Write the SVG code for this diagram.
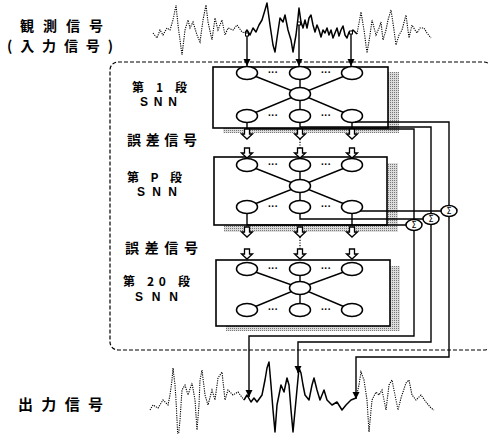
<svg xmlns="http://www.w3.org/2000/svg" width="488" height="434" viewBox="0 0 488 434">
<style>
.lbl{font-family:"Noto Sans CJK JP","Liberation Sans",sans-serif;font-weight:bold;fill:#000}
.snn{font-family:"Liberation Sans",Arial,sans-serif;font-weight:bold;font-size:12px;fill:#000}
.box{fill:#fff;stroke:#000;stroke-width:1.6}
.shadow{fill:url(#stip)}
.node{fill:#fff;stroke:#000;stroke-width:1.5}
.ln{fill:none;stroke:#000;stroke-width:1.4}
.wd{fill:none;stroke:#000;stroke-width:1.1;stroke-dasharray:1.2 1.1}
.ws{fill:none;stroke:#000;stroke-width:1.5;stroke-linejoin:round}
.dots{font-family:"Liberation Sans",sans-serif;font-size:10px;font-weight:bold;text-anchor:middle}
.sig{font-family:"DejaVu Sans",sans-serif;font-size:8px;text-anchor:middle}
.frame{fill:none;stroke:#000;stroke-width:1.2;stroke-dasharray:4 2}
.dot{fill:none;stroke:#000;stroke-width:1.2;stroke-dasharray:1.2 1.5}
</style>
<defs>
<pattern id="stip" width="2" height="2" patternUnits="userSpaceOnUse"><rect width="2" height="2" fill="#dcdcdc"/><rect width="1" height="1" fill="#777"/></pattern>
<marker id="ah" markerUnits="userSpaceOnUse" markerWidth="8" markerHeight="8" refX="7" refY="3.5" orient="auto"><path d="M0,0 L7,3.5 L0,7 z" fill="#000"/></marker>
<path id="harrow" d="M-2.5,0 V5 H-5.5 L0,10 L5.5,5 H2.5 V0 Z" fill="#fff" stroke="#000" stroke-width="1.3"/>
</defs>

<rect class="frame" x="110" y="62" width="382" height="288" rx="8"/>

<g id="input-wave">
<path class="wd" d="M153,33 L157,38 L160,30 L163,35 L167,28 L170,30 L173,20 L176,5 L178,25 L182,55 L185,30 L188,20 L190,28 L193,22 L197,35 L200,42 L203,20 L206,5 L208,22 L212,40 L215,18 L218,30 L222,20 L225,35 L228,28 L233,30 L237,25 L242,32 L245,33"/>
<path class="ws" d="M245,33 L247,30 L250,35 L253,28 L256,32 L259,25 L262,20 L265,10 L267,3 L270,25 L273,45 L275,52 L277,38 L280,18 L283,22 L285,15 L288,30 L291,40 L293,52 L296,35 L298,18 L299,8 L301,22 L303,28 L305,20 L307,28 L309,18 L311,15 L313,25 L315,32 L317,25 L319,30 L321,37 L323,30 L325,33 L327,28 L329,35 L331,30 L333,38 L335,33 L337,28 L339,36 L341,30 L343,26 L345,35 L347,38 L349,32 L351,33 L353,30 L357,34"/>
<path class="wd" d="M357,34 L361,12 L364,30 L367,53 L370,35 L372,20 L376,35 L379,28 L381,22 L383,40 L386,30 L388,20 L391,10 L394,30 L396,45 L399,35 L402,30 L406,15 L409,38 L412,25 L415,30 L417,33 L420,28 L424,28 L427,33 L431,38"/>
</g>

<g id="output-wave">
<path class="wd" d="M150,410 L153,405 L158,408 L163,400 L168,405 L170,395 L172,380 L173,368 L175,385 L176,400 L178,440 L180,420 L182,390 L185,385 L188,395 L192,383 L195,400 L197,430 L199,405 L200,380 L202,370 L205,395 L208,405 L212,390 L215,400 L218,378 L222,372 L225,400 L228,390 L233,395 L238,392 L244,400"/>
<path class="ws" d="M244,400 L247,395 L251,402 L254,398 L257,402 L262,395 L265,380 L267,368 L269,362 L271,385 L273,410 L275,432 L277,405 L281,385 L284,392 L287,378 L289,385 L291,410 L293,432 L296,400 L299,368 L301,373 L303,385 L305,395 L309,400 L312,385 L314,378 L317,390 L320,400 L324,390 L327,400 L332,405 L337,402 L342,410 L346,405 L351,400 L356,398"/>
<path class="wd" d="M356,398 L359,385 L361,372 L364,380 L367,400 L369,432 L372,400 L376,392 L379,395 L382,390 L386,410 L389,385 L392,380 L396,400 L398,410 L401,398 L406,383 L409,380 L412,395 L416,400 L421,395 L426,402 L431,408 L434,410"/>
</g>

<g id="stage1">
<rect class="shadow" x="223" y="72" width="176" height="61"/>
<rect class="box" x="213" y="67" width="175" height="61"/>
<path class="ln" d="M247,73 L300,94 L352,73 M300,73 V116 M247,116 L300,94 L352,116"/>
<ellipse class="node" cx="247" cy="73" rx="10.5" ry="6.5"/>
<ellipse class="node" cx="300" cy="73" rx="10.5" ry="6.5"/>
<ellipse class="node" cx="352" cy="73" rx="10.5" ry="6.5"/>
<ellipse class="node" cx="300" cy="94" rx="10.5" ry="6.5"/>
<ellipse class="node" cx="247" cy="116" rx="10.5" ry="6.5"/>
<ellipse class="node" cx="300" cy="116" rx="10.5" ry="6.5"/>
<ellipse class="node" cx="352" cy="116" rx="10.5" ry="6.5"/>
<text class="dots" x="273" y="76">···</text><text class="dots" x="326" y="76">···</text>
<text class="dots" x="273" y="119">···</text><text class="dots" x="326" y="119">···</text>
</g>

<g id="stage2">
<rect class="shadow" x="224" y="163" width="174" height="69"/>
<rect class="box" x="214" y="157" width="173" height="68"/>
<path class="ln" d="M247,165 L300,186 L352,165 M300,165 V207 M247,207 L300,186 L352,207"/>
<ellipse class="node" cx="247" cy="165" rx="10.5" ry="6.5"/>
<ellipse class="node" cx="300" cy="165" rx="10.5" ry="6.5"/>
<ellipse class="node" cx="352" cy="165" rx="10.5" ry="6.5"/>
<ellipse class="node" cx="300" cy="186" rx="10.5" ry="6.5"/>
<ellipse class="node" cx="247" cy="207" rx="10.5" ry="6.5"/>
<ellipse class="node" cx="300" cy="207" rx="10.5" ry="6.5"/>
<ellipse class="node" cx="352" cy="207" rx="10.5" ry="6.5"/>
<text class="dots" x="273" y="168">···</text><text class="dots" x="326" y="168">···</text>
<text class="dots" x="273" y="210">···</text><text class="dots" x="326" y="210">···</text>
</g>

<g id="stage3">
<rect class="shadow" x="226" y="266" width="174" height="65"/>
<rect class="box" x="216" y="260" width="174" height="66"/>
<path class="ln" d="M247,269 L300,288 L352,269 M300,269 V310 M247,310 L300,288 L352,310"/>
<ellipse class="node" cx="247" cy="269" rx="10.5" ry="6.5"/>
<ellipse class="node" cx="300" cy="269" rx="10.5" ry="6.5"/>
<ellipse class="node" cx="352" cy="269" rx="10.5" ry="6.5"/>
<ellipse class="node" cx="300" cy="288" rx="10.5" ry="6.5"/>
<ellipse class="node" cx="247" cy="310" rx="10.5" ry="6.5"/>
<ellipse class="node" cx="300" cy="310" rx="10.5" ry="6.5"/>
<ellipse class="node" cx="352" cy="310" rx="10.5" ry="6.5"/>
<text class="dots" x="273" y="272">···</text><text class="dots" x="326" y="272">···</text>
<text class="dots" x="273" y="313">···</text><text class="dots" x="326" y="313">···</text>
</g>

<g id="connectors">
<path class="ln" marker-end="url(#ah)" d="M247,35 V66"/>
<path class="ln" marker-end="url(#ah)" d="M299,24 V66"/>
<path class="ln" marker-end="url(#ah)" d="M351,33 V66"/>
<rect x="245.5" y="33" width="3" height="3" fill="#fff" stroke="#000" stroke-width="1"/>
<rect x="297.5" y="22" width="3" height="3" fill="#fff" stroke="#000" stroke-width="1"/>
<rect x="349.5" y="31" width="3" height="3" fill="#fff" stroke="#000" stroke-width="1"/>
<path class="ln" d="M247,122 V129 H414 V219"/>
<path class="ln" d="M300,122 V127 H431 V213"/>
<path class="ln" d="M352,122 V129 M355,122 H449 V205"/>
<path class="ln" d="M247,213 V225 H406"/>
<path class="ln" d="M300,213 V219 H423"/>
<path class="ln" d="M352,213 V225 M360,211 H441"/>
<use href="#harrow" x="247" y="129"/><use href="#harrow" x="300" y="129"/><use href="#harrow" x="352" y="129"/>
<use href="#harrow" x="247" y="148"/><use href="#harrow" x="300" y="148"/><use href="#harrow" x="352" y="148"/>
<use href="#harrow" x="247" y="227"/><use href="#harrow" x="300" y="227"/><use href="#harrow" x="352" y="227"/>
<use href="#harrow" x="247" y="249"/><use href="#harrow" x="300" y="249"/><use href="#harrow" x="352" y="249"/>
<path class="dot" d="M300,139 V148 M300,237 V249"/>
<path class="ln" marker-end="url(#ah)" d="M414,230 V336 H249 V397"/>
<path class="ln" marker-end="url(#ah)" d="M431,224 V342 H298 V373"/>
<path class="ln" marker-end="url(#ah)" d="M449,216 V357 H356 V399"/>
</g>

<g id="sum1"><ellipse class="node" cx="414" cy="225" rx="8" ry="5.5"/><text class="sig" x="414" y="228">Σ</text></g>
<g id="sum2"><ellipse class="node" cx="431" cy="219" rx="8" ry="5.5"/><text class="sig" x="431" y="222">Σ</text></g>
<g id="sum3"><ellipse class="node" cx="449" cy="211" rx="8" ry="5.5"/><text class="sig" x="449" y="214">Σ</text></g>

<g id="labels">
<text class="lbl" x="20" y="30.5" font-size="14" textLength="83" lengthAdjust="spacing">観測信号</text>
<text class="lbl" x="7" y="51" font-size="14" textLength="106" lengthAdjust="spacing">(入力信号)</text>
<text class="lbl" x="132" y="91.5" font-size="12" textLength="55" lengthAdjust="spacing">第 1 段</text>
<text class="snn" x="140" y="106" textLength="37" lengthAdjust="spacing">SNN</text>
<text class="lbl" x="127" y="145" font-size="14" textLength="70" lengthAdjust="spacing">誤差信号</text>
<text class="lbl" x="127" y="181.5" font-size="12" textLength="55" lengthAdjust="spacing">第 P 段</text>
<text class="snn" x="137" y="196" textLength="40" lengthAdjust="spacing">SNN</text>
<text class="lbl" x="125" y="253" font-size="14" textLength="73" lengthAdjust="spacing">誤差信号</text>
<text class="lbl" x="123" y="286" font-size="12" textLength="67" lengthAdjust="spacing">第 20 段</text>
<text class="snn" x="135" y="300.5" textLength="43" lengthAdjust="spacing">SNN</text>
<text class="lbl" x="18" y="410" font-size="15" textLength="85" lengthAdjust="spacing">出力信号</text>
</g>
</svg>
